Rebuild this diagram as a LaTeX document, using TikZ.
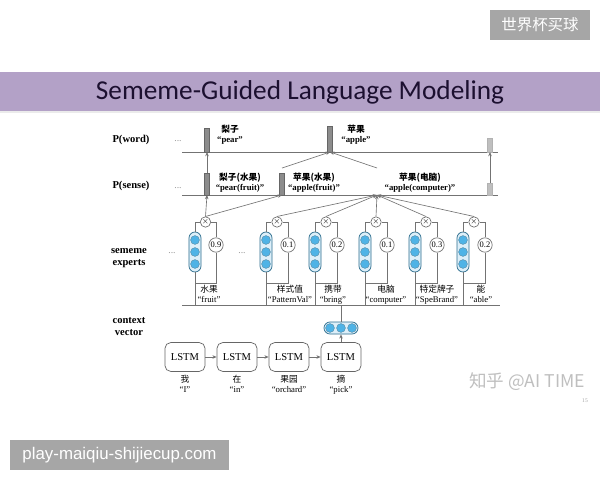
\documentclass[tikz,border=0pt]{standalone}
\usepackage{fontspec}
\setmainfont{Liberation Serif}
\newfontfamily\cjk{Noto Sans CJK SC}
\newfontfamily\titlefont{Carlito}
\newfontfamily\sitefont{Liberation Sans}
\usepackage{xcolor}
\usetikzlibrary{arrows.meta, calc}

\definecolor{bandpurple}{HTML}{B3A1C7}
\definecolor{titleink}{HTML}{1C1030}
\definecolor{markgray}{HTML}{A6A6A6}
\definecolor{dotblue}{HTML}{4FB3E6}
\definecolor{pillline}{HTML}{2D6E8E}
\definecolor{pillfill}{HTML}{DDEFF9}
\definecolor{barfill}{HTML}{8C8C8C}

\begin{document}
\begin{tikzpicture}[
    x=0.025cm, y=-0.025cm,
    wire/.style={draw=black!55, line width=0.45pt},
    arr/.style={wire, -{Stealth[length=3pt, width=2.5pt]}},
    bar/.style={draw=black!60, fill=barfill, line width=0.3pt, minimum width=0.13cm, inner sep=0pt, anchor=south},
    faintbar/.style={bar, draw=black!30, fill=black!25},
    rowlabel/.style={font=\fontsize{7.5}{8.5}\selectfont\bfseries, align=center},
    wordlabel/.style={font=\fontsize{6.2}{7.2}\selectfont\bfseries, align=center, inner sep=0pt},
    pill/.style={draw=pillline, fill=pillfill, line width=0.5pt, rounded corners=0.15cm, minimum width=0.3cm, minimum height=1cm, inner sep=0pt},
    dot/.style={circle, draw=pillline!80, fill=dotblue, line width=0.3pt, minimum size=0.22cm, inner sep=0pt},
    weight/.style={circle, draw=black!60, fill=white, line width=0.45pt, minimum size=0.36cm, inner sep=0pt, font=\fontsize{6}{6}\selectfont},
    mult/.style={circle, draw=black!60, fill=white, line width=0.45pt, minimum size=0.26cm, inner sep=0pt, font=\fontsize{5}{5}\selectfont},
    tokenlabel/.style={font=\fontsize{6.2}{7.2}\selectfont, align=center, inner sep=0pt, anchor=north},
    lstm/.style={draw=black!60, line width=0.5pt, rounded corners=4pt, minimum width=1cm, minimum height=0.72cm, font=\fontsize{7.5}{7.5}\selectfont},
    ellip/.style={text=black!40, font=\fontsize{7}{7}\selectfont},
    stamp/.style={fill=markgray, text=white, inner sep=0pt, minimum height=0.75cm}
]

% 0. Canvas
\fill[white] (0,0) rectangle (600,480);
\useasboundingbox (0,0) rectangle (600,480);

% 1. Title band and stamps
\fill[bandpurple] (0,72) rectangle (600,111);
\fill[black!8] (0,111) rectangle (600,113);
\node[text=titleink, font=\titlefont\fontsize{19.4}{20}\selectfont] (title) at (300,92) {Sememe-Guided Language Modeling};
\node[stamp, minimum width=2.5cm, font=\cjk\fontsize{11}{11}\selectfont] (tag) at (540,25) {世界杯买球};
\node[stamp, minimum width=5.475cm, font=\sitefont\fontsize{12}{12}\selectfont] (site) at (119.5,455) {play-maiqiu-shijiecup.com};
\node[text=black!25, font=\cjk\fontsize{12.5}{12.5}\selectfont] (zhihu) at (527,382) {知乎 @AI TIME};
\node[text=black!35, font=\fontsize{4}{4}\selectfont] (page) at (585,401) {15};

% 2. Row captions
\node[rowlabel] (lword) at (131,140) {P(word)};
\node[rowlabel] (lsense) at (131,186) {P(sense)};
\node[rowlabel] (lexpert) at (129,258) {sememe\\experts};
\node[rowlabel] (lctx) at (129,327) {context\\vector};

% 3. P(word) row
\coordinate (wl) at (182,152);
\coordinate (wr) at (498,152);
\draw[wire] (wl) -- (wr);
\node[ellip] (wdots) at (178,141) {...};
\node[bar, minimum height=0.6cm] (wpear) at (207,152) {};
\node[bar, minimum height=0.63cm] (wapple) at (330,152) {};
\node[faintbar, minimum height=0.33cm] (wlast) at (490,152) {};
\node[wordlabel] (tpear) at (230,135) {{\cjk 梨子}\\“pear”};
\node[wordlabel] (tapple) at (356,135) {{\cjk 苹果}\\“apple”};

% 4. P(sense) row
\coordinate (sl) at (182,195);
\coordinate (sr) at (498,195);
\draw[wire] (sl) -- (sr);
\node[ellip] (sdots) at (178,188) {...};
\node[bar, minimum height=0.53cm] (spear) at (207,195) {};
\node[bar, minimum height=0.53cm] (sapple) at (282,195) {};
\node[faintbar, minimum height=0.3cm] (slast) at (490,195) {};
\coordinate (scomp) at (377,195);
\coordinate (scompup) at (377,168);
\coordinate (sappleup) at (282,168);
\node[wordlabel] (tpearf) at (240,183) {{\cjk 梨子(水果)}\\“pear(fruit)”};
\node[wordlabel] (tapplef) at (314,183) {{\cjk 苹果(水果)}\\“apple(fruit)”};
\node[wordlabel] (tapplec) at (420,183) {{\cjk 苹果(电脑)}\\“apple(computer)”};

\draw[arr] (spear.north) -- (wpear.south);
\draw[arr] (slast.north) -- (wlast.south);
\draw[arr] (sappleup) -- (wapple.south);
\draw[arr] (scompup) -- (wapple.south);

% 5. Sememe experts
\node[ellip] (edots1) at (172,253) {...};
\node[ellip] (edots2) at (242,253) {...};
\foreach \i/\px/\wx/\w/\lx/\zh/\en in {
    1/195/216/0.9/209/水果/fruit,
    2/266/288/0.1/290/样式值/PatternVal,
    3/315/337/0.2/333/携带/bring,
    4/365/387/0.1/386/电脑/computer,
    5/415/437/0.3/437/特定牌子/SpeBrand,
    6/463/485/0.2/481/能/able}
{
    \pgfmathsetmacro{\mxx}{(\px+\wx)/2}
    \node[pill] (pill\i) at (\px,252) {};
    \foreach \k in {-1,0,1}
        \node[dot] (pill\i dot\k) at ($(pill\i)+(0,12*\k)$) {};
    \node[weight] (wt\i) at (\wx,245) {\w};
    \node[mult] (mx\i) at (\mxx,222) {$\times$};
    \coordinate (tie\i) at (\px,283);
    \coordinate (foot\i) at (\px,305);
    \draw[wire] (pill\i.north) |- (mx\i.west);
    \draw[wire] (wt\i.north) |- (mx\i.east);
    \draw[wire] (wt\i.south) |- (tie\i);
    \draw[wire] (pill\i.south) -- (foot\i);
    \node[tokenlabel] (sem\i) at (\lx,285) {{\cjk \zh}\\“\en”};
}

\draw[arr] (mx1.north) -- (spear.south);
\draw[arr] (mx1.north) -- (sapple.south);
\foreach \i in {2,...,6}
    \draw[arr] (mx\i.north) -- (scomp);

\coordinate (el) at (182,305);
\coordinate (er) at (500,305);
\draw[wire] (el) -- (er);

% 6. Context vector and LSTM chain
\node[pill, minimum width=0.85cm, minimum height=0.3cm] (ctx) at (341,328) {};
\foreach \k in {-1,0,1}
    \node[dot] (ctxdot\k) at ($(ctx)+(11*\k,0)$) {};
\coordinate (ctxfoot) at (341,305);
\draw[wire] (ctx.north) -- (ctxfoot);

\node[lstm] (lstm1) at (185,357) {LSTM};
\node[lstm] (lstm2) at (237,357) {LSTM};
\node[lstm] (lstm3) at (289,357) {LSTM};
\node[lstm] (lstm4) at (341,357) {LSTM};
\draw[arr] (lstm1) -- (lstm2);
\draw[arr] (lstm2) -- (lstm3);
\draw[arr] (lstm3) -- (lstm4);
\draw[arr] (lstm4) -- (ctx);

\node[tokenlabel] (tok1) at (185,375) {{\cjk 我}\\“I”};
\node[tokenlabel] (tok2) at (237,375) {{\cjk 在}\\“in”};
\node[tokenlabel] (tok3) at (289,375) {{\cjk 果园}\\“orchard”};
\node[tokenlabel] (tok4) at (341,375) {{\cjk 摘}\\“pick”};

\end{tikzpicture}
\end{document}
